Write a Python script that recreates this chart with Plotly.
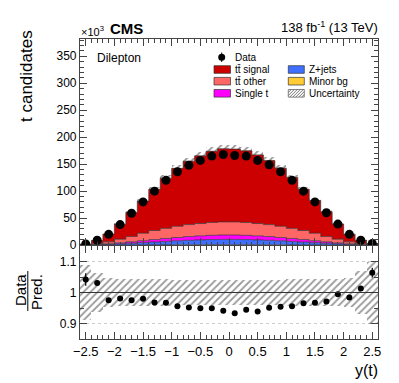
import numpy as np
import plotly.graph_objects as go

# bins of y(t): 26 bins of width 0.2 from -2.6 to 2.6
edges = [-2.6, -2.4, -2.2, -2.0, -1.8, -1.6, -1.4, -1.2, -1.0, -0.8, -0.6, -0.4, -0.2, 0.0,
         0.2, 0.4, 0.6, 0.8, 1.0, 1.2, 1.4, 1.6, 1.8, 2.0, 2.2, 2.4, 2.6]
centers = [-2.5, -2.3, -2.1, -1.9, -1.7, -1.5, -1.3, -1.1, -0.9, -0.7, -0.5, -0.3, -0.1,
           0.1, 0.3, 0.5, 0.7, 0.9, 1.1, 1.3, 1.5, 1.7, 1.9, 2.1, 2.3, 2.5]

# values in units of 10^3
data = [2, 9, 20, 38, 59, 80, 100, 120, 136, 148, 157, 165, 168,
        166, 165, 157, 149, 136, 120, 100, 80, 60, 39, 20, 9, 3]
minor_bg = [0.02, 0.05, 0.1, 0.15, 0.2, 0.3, 0.35, 0.4, 0.45, 0.5, 0.55, 0.6, 0.6,
            0.6, 0.6, 0.55, 0.5, 0.45, 0.4, 0.35, 0.3, 0.2, 0.15, 0.1, 0.05, 0.02]
zjets = [0.25, 0.6, 1.25, 2.2, 3.2, 4.2, 5.4, 6.5, 7.5, 8.4, 9.1, 9.6, 10,
         10, 9.6, 9.1, 8.4, 7.5, 6.5, 5.4, 4.2, 3.2, 2.2, 1.25, 0.6, 0.25]
single_t = [0.2, 0.5, 1, 1.8, 2.7, 3.6, 4.5, 5.4, 6.2, 6.9, 7.5, 7.9, 8.1,
            8.1, 7.9, 7.5, 6.9, 6.2, 5.4, 4.5, 3.6, 2.7, 1.8, 1, 0.5, 0.2]
tt_other = [0.53, 1.85, 3.65, 6.8, 9.9, 13.9, 16.8, 18.7, 20.8, 22.2, 22.85, 23.9, 24.3,
            24.3, 23.9, 22.85, 22.2, 20.8, 18.7, 16.8, 13.9, 9.9, 6.8, 3.65, 1.85, 0.53]
tt_signal = [0.9, 5.7, 14.5, 27.7, 44.5, 59.6, 76.3, 93.1, 107.3, 117.5, 125.4, 131.9, 135.5,
             134.9, 132.8, 127.2, 118.7, 107.6, 94.5, 76.6, 60.7, 45.8, 28.2, 14.3, 5.9, 1.8]
rel_unc = [0.09, 0.063, 0.046, 0.045, 0.044, 0.043, 0.042, 0.042, 0.041, 0.041, 0.041, 0.041, 0.041,
           0.041, 0.041, 0.041, 0.041, 0.041, 0.042, 0.042, 0.043, 0.044, 0.045, 0.046, 0.07, 0.10]
ratio = [1.042, 1.031, 0.975, 0.981, 0.975, 0.980, 0.968, 0.967, 0.956, 0.952, 0.949, 0.949, 0.941,
         0.933, 0.944, 0.939, 0.951, 0.954, 0.956, 0.965, 0.967, 0.971, 0.994, 0.984, 1.013, 1.064]
ratio_err = [0.02, 0.008, 0.005, 0.004, 0.003, 0.003, 0.003, 0.003, 0.003, 0.003, 0.003, 0.003, 0.003,
             0.003, 0.003, 0.003, 0.003, 0.003, 0.003, 0.003, 0.003, 0.003, 0.004, 0.005, 0.008, 0.016]

FONT = "Liberation Sans, Arial, sans-serif"

# page has an 8px body margin, so the figure is made 8px smaller
OFF = 8
W, H = 399 - OFF, 383 - OFF
# plot area in page pixels
PX0, PX1, PY0, PY1 = 80, 378, 39, 339
L, R, T, B = PX0 - OFF, W - (PX1 - OFF), PY0 - OFF, H - (PY1 - OFF)


def xp(px):
    return (px - PX0) / (PX1 - PX0)


def yp(py):
    return (PY1 - py) / (PY1 - PY0)


stack = [("Minor bg", minor_bg, "#ffcc33"),
         ("Z+jets", zjets, "#3f6fff"),
         ("Single t", single_t, "#ff00ff"),
         ("tt̄ other", tt_other, "#ff6666"),
         ("tt̄ signal", tt_signal, "#cc0000")]

total = np.sum([np.array(v) for _, v, _ in stack], axis=0)
unc = np.array(rel_unc)

fig = go.Figure()

hatch = dict(shape="/", fgcolor="#333333", size=5, solidity=0.35, bgcolor="rgba(0,0,0,0)")

# uncertainty band (main), drawn under the stack
fig.add_trace(go.Bar(x=centers, y=2 * total * unc, base=total * (1 - unc), width=0.2,
                     marker=dict(color="rgba(0,0,0,0)", line=dict(width=0), pattern=hatch),
                     xaxis="x2", yaxis="y2", showlegend=False, hoverinfo="skip"))
# uncertainty band (ratio)
fig.add_trace(go.Bar(x=centers, y=2 * unc, base=1 - unc, width=0.2,
                     marker=dict(color="rgba(0,0,0,0)", line=dict(width=0), pattern=hatch),
                     xaxis="x", yaxis="y", showlegend=False, hoverinfo="skip"))

cum = np.zeros(len(centers))
for i, (name, vals, col) in enumerate(stack):
    cum = cum + np.array(vals)
    fig.add_trace(go.Scatter(x=edges, y=list(cum) + [cum[-1]], mode="lines", line_shape="hv",
                             line=dict(color="#333333", width=0.7),
                             fill="tozeroy" if i == 0 else "tonexty", fillcolor=col,
                             xaxis="x2", yaxis="y2", showlegend=False, name=name))

fig.add_trace(go.Scatter(x=centers, y=data, mode="markers",
                         marker=dict(color="black", size=9),
                         xaxis="x2", yaxis="y2", showlegend=False, name="Data"))

fig.add_trace(go.Scatter(x=centers, y=ratio, mode="markers",
                         marker=dict(color="black", size=6),
                         error_y=dict(type="data", array=ratio_err, width=0, thickness=1.2, color="black"),
                         xaxis="x", yaxis="y", showlegend=False))

axis_common = dict(showline=True, linecolor="#444444", linewidth=1.2, mirror="ticks",
                   ticks="inside", ticklen=7, tickcolor="#444444", showgrid=False, zeroline=False,
                   tickfont=dict(family=FONT, size=12, color="black"))

fig.update_layout(
    width=W, height=H, margin=dict(l=L, r=R, t=T, b=B),
    paper_bgcolor="white", plot_bgcolor="white",
    font=dict(family=FONT, color="black"),
    barmode="overlay", bargap=0,
    xaxis=dict(axis_common, range=[-2.6, 2.6], dtick=0.5, tick0=0, domain=[0, 1], anchor="y",
               tickfont=dict(family=FONT, size=13, color="black"),
               minor=dict(ticks="inside", dtick=0.1, ticklen=4, tickcolor="#444444")),
    yaxis=dict(axis_common, range=[0.85, 1.15], tickvals=[0.9, 1.0, 1.1], domain=[0, 0.31],
               anchor="x", showgrid=True, gridcolor="#cccccc", griddash="dot", gridwidth=1,
               minor=dict(ticks="inside", dtick=0.05, ticklen=4, tickcolor="#444444")),
    xaxis2=dict(axis_common, range=[-2.6, 2.6], dtick=0.5, tick0=0, domain=[0, 1], anchor="y2",
                showticklabels=False, matches="x",
                minor=dict(ticks="inside", dtick=0.1, ticklen=3.5, tickcolor="#444444")),
    yaxis2=dict(axis_common, range=[0, 382], dtick=50, domain=[0.313, 1], anchor="x2",
                minor=dict(ticks="inside", dtick=10, ticklen=3.5, tickcolor="#444444")),
)

# line at ratio = 1
fig.add_shape(type="line", xref="x", yref="y", x0=-2.6, x1=2.6, y0=1, y1=1,
              line=dict(color="#333333", width=1))


def text(s, x, y, size, xanchor="left", angle=0, bold=False):
    fig.add_annotation(text="<b>%s</b>" % s if bold else s, xref="paper", yref="paper",
                       x=xp(x), y=yp(y), xanchor=xanchor, yanchor="middle", showarrow=False,
                       textangle=angle, font=dict(family=FONT, size=size, color="black"))


text("×10<sup>3</sup>", 79, 31, 11)
text("CMS", 108, 28, 15, bold=True)
text("138 fb<sup>-1</sup> (13 TeV)", 380, 27, 13, xanchor="right")
text("Dilepton", 95, 58, 12)
text("t candidates", 27, 76, 17, xanchor="center", angle=-90)
text("Data", 20, 290, 15, xanchor="center", angle=-90)
text("Pred.", 36, 292, 15, xanchor="center", angle=-90)
text("y(t)", 380, 370, 16, xanchor="right")

fig.add_shape(type="line", xref="paper", yref="paper", x0=xp(27.8), x1=xp(27.8), y0=yp(271), y1=yp(311),
              line=dict(color="black", width=1))

# legend
fig.add_shape(type="circle", xref="paper", yref="paper", x0=xp(218.2), x1=xp(225.2),
              y0=yp(60.8), y1=yp(53.8), fillcolor="black", line=dict(width=0))
fig.add_shape(type="line", xref="paper", yref="paper", x0=xp(221.7), x1=xp(221.7),
              y0=yp(62), y1=yp(52.5), line=dict(color="black", width=1))
text("Data", 233, 57, 10)

legend_rows = [(69.5, "tt̄ signal", "#cc0000", "Z+jets", "#3f6fff"),
               (81.2, "tt̄ other", "#ff6666", "Minor bg", "#ffcc33"),
               (93.3, "Single t", "#ff00ff", "Uncertainty", None)]
for yc, t1, c1, t2, c2 in legend_rows:
    fig.add_shape(type="rect", xref="paper", yref="paper", x0=xp(214), x1=xp(230.5),
                  y0=yp(yc + 3.8), y1=yp(yc - 3.8), fillcolor=c1, line=dict(color="#333333", width=0.7))
    text(t1, 233, yc, 10)
    if c2 is not None:
        fig.add_shape(type="rect", xref="paper", yref="paper", x0=xp(288.3), x1=xp(304.3),
                      y0=yp(yc + 3.8), y1=yp(yc - 3.8), fillcolor=c2, line=dict(color="#333333", width=0.7))
    else:
        bx0, bx1, byb, byt = 288.3, 304.3, yc + 3.8, yc - 3.8
        hgt = byb - byt
        k = bx0 - hgt
        while k < bx1:
            xs, ys, xe, ye = k, byb, k + hgt, byt
            if xs < bx0:
                ys = byb - (bx0 - xs)
                xs = bx0
            if xe > bx1:
                ye = byt + (xe - bx1)
                xe = bx1
            fig.add_shape(type="line", xref="paper", yref="paper", x0=xp(xs), x1=xp(xe),
                          y0=yp(ys), y1=yp(ye), line=dict(color="#555555", width=0.8))
            k += 3
        fig.add_shape(type="rect", xref="paper", yref="paper", x0=xp(bx0), x1=xp(bx1),
                      y0=yp(byb), y1=yp(byt), line=dict(color="#555555", width=0.7))
    text(t2, 307, yc, 10)

fig.write_html("out.html")
